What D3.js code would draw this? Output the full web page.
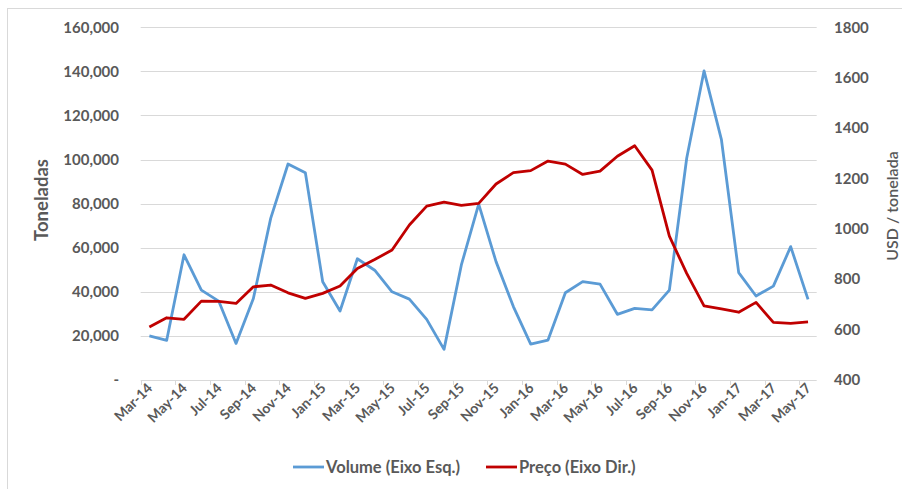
<!DOCTYPE html>
<html>
<head>
<meta charset="utf-8">
<script src="https://cdn.jsdelivr.net/npm/d3@7/dist/d3.min.js"></script>
<style>
  html, body { margin: 0; padding: 0; background: #fff; }
  svg { display: block; }
  text { font-family: Lato, "Open Sans", sans-serif; fill: #595959; }
</style>
</head>
<body>
<svg id="chart" width="902" height="489"></svg>
<script>
// Monthly categories, Mar-14 .. May-17
const months = ["Mar-14","Apr-14","May-14","Jun-14","Jul-14","Aug-14","Sep-14","Oct-14","Nov-14","Dec-14",
  "Jan-15","Feb-15","Mar-15","Apr-15","May-15","Jun-15","Jul-15","Aug-15","Sep-15","Oct-15","Nov-15","Dec-15",
  "Jan-16","Feb-16","Mar-16","Apr-16","May-16","Jun-16","Jul-16","Aug-16","Sep-16","Oct-16","Nov-16","Dec-16",
  "Jan-17","Feb-17","Mar-17","Apr-17","May-17"];

// Volume in tonnes (left axis)
const volume = [20000, 18000, 56800, 40800, 35800, 16600, 37000, 73300, 98000, 94000,
  44600, 31300, 55000, 49800, 40000, 36700, 27500, 13900, 52200, 79800, 53700, 33300,
  16300, 18100, 39600, 44600, 43500, 29800, 32500, 31800, 40800, 100600, 140200, 109200,
  48700, 38100, 42600, 60500, 36600];

// Price in USD per tonne (right axis)
const price = [610, 647, 641, 713, 712, 704, 770, 777, 746, 724,
  744, 773, 843, 878, 916, 1015, 1090, 1106, 1093, 1101, 1178, 1223,
  1231, 1269, 1257, 1216, 1229, 1288, 1330, 1233, 971, 823, 694, 682,
  669, 708, 629, 625, 631];

const leftTicks = [0, 20000, 40000, 60000, 80000, 100000, 120000, 140000, 160000];
const rightTicks = [400, 600, 800, 1000, 1200, 1400, 1600, 1800];
const labelMonths = months.filter((d, i) => i % 2 === 0);

const svg = d3.select("#chart");
const plot = { left: 140.7, right: 816.7, top: 27.3, bottom: 380 };

// chart area border
svg.append("rect")
  .attr("x", 7.5).attr("y", 8.5).attr("width", 1000).attr("height", 1000)
  .attr("fill", "none").attr("stroke", "#d9d9d9").attr("stroke-width", 1);

const x = d3.scaleBand().domain(months).range([plot.left, plot.right]).padding(0);
const yL = d3.scaleLinear().domain([0, 160000]).range([plot.bottom, plot.top]);
const yR = d3.scaleLinear().domain([400, 1800]).range([plot.bottom, plot.top]);
const cx = d => x(d) + x.bandwidth() / 2;

// horizontal gridlines
svg.append("g")
  .selectAll("line")
  .data(leftTicks.slice(1))
  .join("line")
  .attr("x1", plot.left).attr("x2", plot.right)
  .attr("y1", d => Math.round(yL(d)) + 0.5).attr("y2", d => Math.round(yL(d)) + 0.5)
  .attr("stroke", "#d9d9d9").attr("stroke-width", 1);

// left axis labels
const fmt = d3.format(",");
svg.append("g")
  .selectAll("text")
  .data(leftTicks)
  .join("text")
  .attr("x", 119)
  .attr("y", d => yL(d))
  .attr("dy", "0.35em")
  .attr("text-anchor", "end")
  .style("font-size", "15px").style("font-weight", "bold")
  .text(d => d === 0 ? "-" : fmt(d));

// right axis labels
svg.append("g")
  .selectAll("text")
  .data(rightTicks)
  .join("text")
  .attr("x", 834)
  .attr("y", d => yR(d))
  .attr("dy", "0.35em")
  .attr("text-anchor", "start")
  .style("font-size", "15px").style("font-weight", "bold")
  .text(d => d);

// category axis
const xAxis = d3.axisBottom(x)
  .tickValues(labelMonths)
  .tickSize(0)
  .tickFormat(d => d);
const gx = svg.append("g").attr("transform", `translate(0,${plot.bottom})`).call(xAxis);
gx.select(".domain").remove();
gx.selectAll(".tick text")
  .attr("x", 0).attr("y", 0).attr("dy", null)
  .attr("text-anchor", "end")
  .attr("transform", "translate(4,9) rotate(-45)")
  .style("font-size", "14px").style("font-weight", "bold")
  .style("font-family", "Lato, 'Open Sans', sans-serif")
  .attr("fill", "#595959");

svg.append("line")
  .attr("x1", plot.left).attr("x2", plot.right)
  .attr("y1", plot.bottom + 0.5).attr("y2", plot.bottom + 0.5)
  .attr("stroke", "#d9d9d9");
svg.append("g")
  .selectAll("line")
  .data(labelMonths)
  .join("line")
  .attr("x1", d => Math.round(x(d)) + 0.5).attr("x2", d => Math.round(x(d)) + 0.5)
  .attr("y1", plot.bottom).attr("y2", plot.bottom + 5)
  .attr("stroke", "#d9d9d9");

// axis titles
svg.append("text")
  .attr("transform", `translate(48,200) rotate(-90)`)
  .attr("text-anchor", "middle")
  .style("font-size", "18.5px").style("font-weight", "bold")
  .text("Toneladas");
svg.append("text")
  .attr("transform", `translate(898,206) rotate(-90)`)
  .attr("text-anchor", "middle")
  .style("font-size", "16px").style("font-weight", "600")
  .text("USD / tonelada");

// series
const lineVol = d3.line().x((d, i) => cx(months[i])).y(d => yL(d));
const linePrice = d3.line().x((d, i) => cx(months[i])).y(d => yR(d));

svg.append("path").datum(volume)
  .attr("d", lineVol)
  .attr("fill", "none").attr("stroke", "#5b9bd5").attr("stroke-width", 2.8)
  .attr("stroke-linejoin", "round");
svg.append("path").datum(price)
  .attr("d", linePrice)
  .attr("fill", "none").attr("stroke", "#c00000").attr("stroke-width", 2.8)
  .attr("stroke-linejoin", "round");

// legend
const legend = [
  { name: "Volume (Eixo Esq.)", color: "#5b9bd5", x: 293 },
  { name: "Preço (Eixo Dir.)", color: "#c00000", x: 486 }
];
const lg = svg.append("g").selectAll("g").data(legend).join("g")
  .attr("transform", d => `translate(${d.x},467)`);
lg.append("line").attr("x1", 0).attr("x2", 31).attr("y1", 0).attr("y2", 0)
  .attr("stroke", d => d.color).attr("stroke-width", 2.8);
lg.append("text").attr("x", 33).attr("dy", "0.35em")
  .style("font-size", "16.5px").style("font-weight", "bold")
  .text(d => d.name);
</script>
</body>
</html>
